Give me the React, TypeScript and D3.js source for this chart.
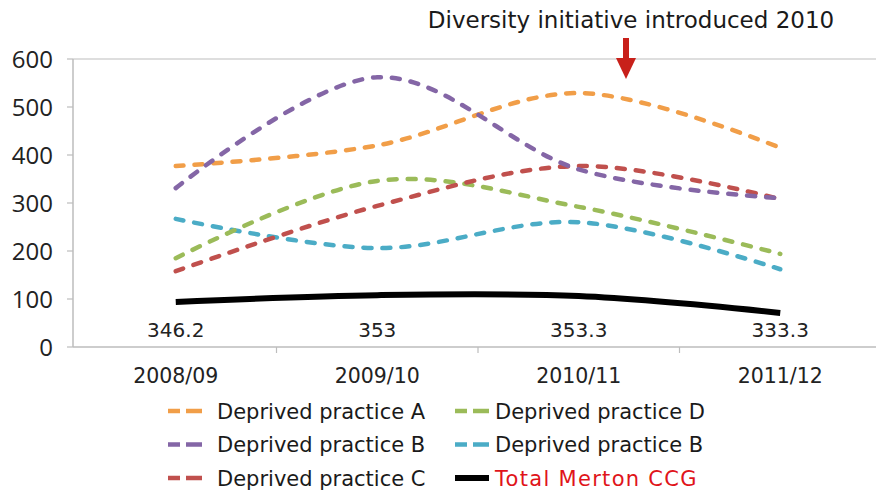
import React from 'react';
import * as d3 from 'd3';

const years = ['2008/09', '2009/10', '2010/11', '2011/12'];
const practiceA = [377, 420, 529, 415];
const practiceB = [331, 562, 370, 310];
const practiceC = [158, 294, 377, 308];
const practiceD = [185, 346, 292, 194];
const practiceB2 = [267, 206, 260, 162];
const totalMerton = [94, 108, 106, 71];
const totalLabels = ['346.2', '353', '353.3', '333.3'];
const yTicks = [0, 100, 200, 300, 400, 500, 600];

const series = [
  { name: 'Deprived practice A', values: practiceA, color: '#F19E48', dashed: true },
  { name: 'Deprived practice B', values: practiceB, color: '#8466A6', dashed: true },
  { name: 'Deprived practice C', values: practiceC, color: '#C0504D', dashed: true },
  { name: 'Deprived practice D', values: practiceD, color: '#9BBB59', dashed: true },
  { name: 'Deprived practice B', values: practiceB2, color: '#4BACC6', dashed: true },
  { name: 'Total Merton CCG', values: totalMerton, color: '#000000', dashed: false },
];

const W = 876;
const H = 493;
const textFont = '"DejaVu Sans", sans-serif';

const App: React.FC = () => {
  const x = d3.scaleBand<string>().domain(years).range([75, 881]);
  const y = d3.scaleLinear().domain([0, 600]).range([347, 59]);
  const cx = (d: string) => (x(d) ?? 0) + x.bandwidth() / 2;

  const line = d3.line<number>()
    .x((_, i) => cx(years[i]))
    .y(d => y(d))
    .curve(d3.curveCardinal.tension(0));

  // draw order: black at the back, then coloured lines
  const drawOrder = [5, 4, 3, 2, 0, 1];

  return (
    <div style={{ position: 'absolute', left: 0, top: 0 }}>
      <svg width={W} height={H} style={{ display: 'block', background: '#fff' }}>
        {/* top gridline */}
        <line x1={73} x2={W} y1={y(600)} y2={y(600)} stroke="#BDBDBD" strokeWidth={1.2} />

        {/* y axis */}
        <line x1={73} x2={73} y1={y(600)} y2={y(0)} stroke="#BDBDBD" strokeWidth={1.5} />
        {yTicks.map(t => (
          <g key={t}>
            <line x1={67} x2={73} y1={y(t)} y2={y(t)} stroke="#BDBDBD" strokeWidth={1.2} />
            <text x={53} y={y(t)} dy="0.36em" textAnchor="end" fontFamily='"Open Sans", sans-serif'
              fontSize={24} fill="#222">{t}</text>
          </g>
        ))}

        {/* x axis */}
        <line x1={73} x2={W} y1={y(0)} y2={y(0)} stroke="#BDBDBD" strokeWidth={1.5} />
        {years.map((d, i) => (
          <g key={d}>
            {i > 0 && (
              <line x1={x(d)} x2={x(d)} y1={y(0)} y2={y(0) + 6} stroke="#BDBDBD" strokeWidth={1.2} />
            )}
            <text x={cx(d)} y={383} textAnchor="middle" fontFamily={textFont} fontSize={20.5} fill="#222">{d}</text>
          </g>
        ))}

        {/* series */}
        {drawOrder.map(k => {
          const s = series[k];
          return (
            <path key={k} d={line(s.values) ?? ''} fill="none" stroke={s.color}
              strokeWidth={s.dashed ? 4.5 : 6}
              strokeDasharray={s.dashed ? '8 11' : undefined}
              strokeLinecap={s.dashed ? 'round' : 'butt'} />
          );
        })}

        {/* data labels for total */}
        {years.map((d, i) => (
          <text key={d} x={cx(d)} y={337} textAnchor="middle" fontFamily={textFont} fontSize={20} fill="#222">
            {totalLabels[i]}
          </text>
        ))}

        {/* annotation */}
        <text x={631} y={28} textAnchor="middle" fontFamily={textFont} fontSize={23} fill="#1a1a1a">
          Diversity initiative introduced 2010
        </text>
        <line x1={626} x2={626} y1={38} y2={62} stroke="#C8201A" strokeWidth={6} />
        <path d="M616,58 L636,58 L626,79 Z" fill="#C8201A" />

        {/* legend */}
        {series.map((s, i) => {
          const col = Math.floor(i / 3);
          const row = i % 3;
          const lx = col === 0 ? 168 : 455;
          const ly = 411 + row * 33.5;
          return (
            <g key={i}>
              <line x1={lx} x2={lx + 34} y1={ly} y2={ly} stroke={s.color}
                strokeWidth={s.dashed ? 4.5 : 6}
                strokeDasharray={s.dashed ? '12 6 16' : undefined} />
              <text x={lx + (col === 0 ? 49 : 40)} y={ly} dy="0.36em" fontFamily={textFont} fontSize={21}
                letterSpacing={s.dashed ? 0 : 1.3}
                fill={s.dashed ? '#1a1a1a' : '#E0141A'}>{s.name}</text>
            </g>
          );
        })}
      </svg>
    </div>
  );
};

export default App;
